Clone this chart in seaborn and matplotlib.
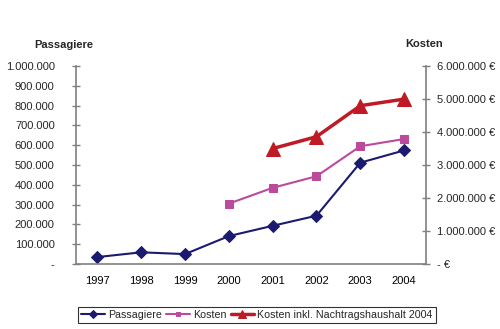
import matplotlib
matplotlib.use("Agg")
import matplotlib.pyplot as plt
import seaborn as sns
import pandas as pd
import numpy as np
from matplotlib.ticker import FuncFormatter

years = ["1997", "1998", "1999", "2000", "2001", "2002", "2003", "2004"]
passagiere = [35000, 59000, 50000, 141000, 193000, 244000, 512000, 574000]
kosten = [np.nan, np.nan, np.nan, 1830000, 2310000, 2660000, 3570000, 3790000]
kosten_nh = [np.nan, np.nan, np.nan, np.nan, 3500000, 3860000, 4800000, 5000000]

sns.set_theme(style="white")
plt.rcParams['font.family'] = ['Liberation Sans', 'DejaVu Sans']

df = pd.DataFrame({"pos": np.arange(len(years)), "Passagiere": passagiere,
                   "Kosten": kosten, "Kosten_nh": kosten_nh})

fig = plt.figure(figsize=(5, 3.29), dpi=100)
ax = fig.add_axes([0.151, 0.1976, 0.701, 0.6014])
ax2 = ax.twinx()

navy = "#1C1A6E"
pink = "#BC4A9C"
red = "#BE1B26"
grey = "#7F7F7F"
fs = 8

sns.lineplot(data=df, x="pos", y="Passagiere", ax=ax, color=navy, marker="D",
             markersize=6.5, markeredgecolor=navy, linewidth=1.5, label="Passagiere", legend=False)
sns.lineplot(data=df.dropna(subset=["Kosten"]), x="pos", y="Kosten", ax=ax2, color=pink, marker="s",
             markersize=6, markeredgecolor=pink, linewidth=1.5, label="Kosten", legend=False)
sns.lineplot(data=df.dropna(subset=["Kosten_nh"]), x="pos", y="Kosten_nh", ax=ax2, color=red, marker="^",
             markersize=10, markeredgecolor=red, linewidth=2.5,
             label="Kosten inkl. Nachtragshaushalt 2004", legend=False)

ax.set_xlim(-0.5, len(years) - 0.5)
ax.set_ylim(0, 1000000)
ax2.set_ylim(0, 6000000)

ax.set_yticks(np.arange(0, 1000001, 100000))
ax2.set_yticks(np.arange(0, 6000001, 1000000))

def left_fmt(v, p):
    if v == 0:
        return "-"
    return f"{int(v):,}".replace(",", ".")

def right_fmt(v, p):
    if v == 0:
        return "- \u20ac"
    return f"{int(v):,}".replace(",", ".") + " \u20ac"

ax.yaxis.set_major_formatter(FuncFormatter(left_fmt))
ax2.yaxis.set_major_formatter(FuncFormatter(right_fmt))

ax.set_xticks(np.arange(len(years)))
ax.set_xticklabels(years)
ax.set_xticks(np.arange(-0.5, len(years)), minor=True)
ax.tick_params(axis="x", which="major", length=0, pad=9, labelsize=fs, colors="black")
ax.tick_params(axis="x", which="minor", length=6, direction="inout", color=grey, width=1)
ax.tick_params(axis="y", length=6, direction="inout", color=grey, width=1, labelsize=fs, pad=12)
ax2.tick_params(axis="y", length=6, direction="inout", color=grey, width=1, labelsize=fs, pad=5)

for a in (ax, ax2):
    a.set_xlabel("")
    a.set_ylabel("")
    a.spines["top"].set_visible(False)
    for s in ("left", "right", "bottom"):
        a.spines[s].set_color(grey)
        a.spines[s].set_linewidth(1.2)
    a.grid(False)
ax.spines["right"].set_visible(False)
ax2.spines["left"].set_visible(False)
ax2.spines["bottom"].set_visible(False)

fig.text(0.068, 0.862, "Passagiere", fontsize=fs, fontweight="bold", ha="left", va="center")
fig.text(0.81, 0.866, "Kosten", fontsize=fs, fontweight="bold", ha="left", va="center")

h1, l1 = ax.get_legend_handles_labels()
h2, l2 = ax2.get_legend_handles_labels()
leg = fig.legend(h1 + h2, l1 + l2, loc="center", bbox_to_anchor=(0.514, 0.043), ncol=3,
                 fontsize=7.7, frameon=True, fancybox=False, edgecolor="black",
                 handlelength=2.2, handletextpad=0.3, columnspacing=0.4, borderpad=0.3,
                 markerscale=0.6)
leg.get_frame().set_linewidth(0.8)

fig.savefig("out.png", dpi=100)
